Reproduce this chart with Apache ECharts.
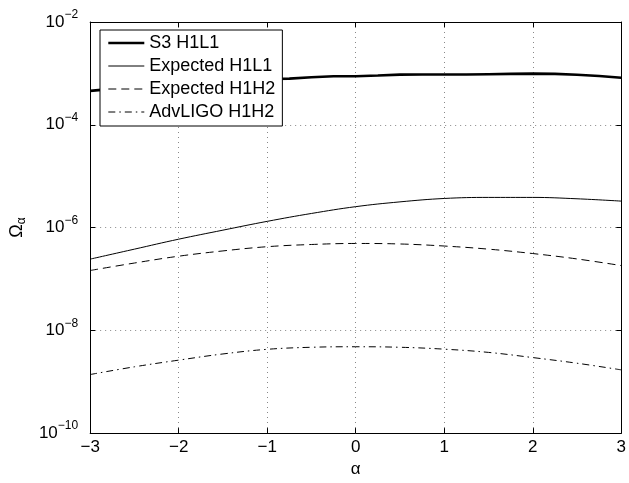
<!DOCTYPE html>
<html>
<head>
<meta charset="utf-8">
<script src="https://cdn.jsdelivr.net/npm/echarts@6/dist/echarts.min.js"></script>
<style>html,body{margin:0;padding:0;background:#fff;}#c{width:629px;height:483px;}</style>
</head>
<body>
<div id="c"></div>
<script>
// x positions (alpha)
var alphaFine = [-3,-2.75,-2.5,-2.25,-2,-1.75,-1.5,-1.25,-1,-0.75,-0.5,-0.25,0,0.25,0.5,0.75,1,1.25,1.5,1.75,2,2.25,2.5,2.75,3];
var alphaCoarse = [-3,-2.5,-2,-1.5,-1,-0.5,0,0.5,1,1.5,2,2.5,3];
// S3 H1L1 (measured upper limit)
var s3H1L1 = [4.57e-4,5.0e-4,5.4e-4,5.75e-4,6.2e-4,6.6e-4,7.1e-4,7.4e-4,7.8e-4,7.9e-4,8.4e-4,8.8e-4,8.8e-4,9.1e-4,9.45e-4,9.5e-4,9.5e-4,9.5e-4,9.65e-4,9.8e-4,9.9e-4,9.8e-4,9.4e-4,8.9e-4,8.2e-4];
// Expected H1L1
var expH1L1 = [2.43e-7,3.8e-7,5.94e-7,8.9e-7,1.32e-6,1.88e-6,2.55e-6,3.16e-6,3.68e-6,3.86e-6,3.86e-6,3.63e-6,3.27e-6];
// Expected H1H2
var expH1H2 = [1.46e-7,2.04e-7,2.77e-7,3.51e-7,4.24e-7,4.68e-7,4.9e-7,4.79e-7,4.37e-7,3.8e-7,3.12e-7,2.45e-7,1.82e-7];
// AdvLIGO H1H2
var advH1H2 = [1.38e-9,1.95e-9,2.63e-9,3.47e-9,4.27e-9,4.68e-9,4.79e-9,4.68e-9,4.3e-9,3.72e-9,2.95e-9,2.29e-9,1.7e-9];
var seriesNames = ['S3 H1L1','Expected H1L1','Expected H1H2','AdvLIGO H1H2'];
var xTicks = [-3,-2,-1,0,1,2,3];

function pairs(xs, ys){ return xs.map(function(x,i){ return [x, ys[i]]; }); }
var FONT = 'Liberation Sans, Arial, Helvetica, sans-serif';
var styles = [
  {color:'#000', width:2.6, type:'solid'},
  {color:'#000', width:1, type:'solid'},
  {color:'#000', width:1, type:[8,5]},
  {color:'#000', width:1, type:[7,4,1.5,4]}
];

var chart = echarts.init(document.getElementById('c'), null, {renderer:'canvas'});
var gridLine = {show:true, lineStyle:{color:'#888', width:1, type:[1,4]}};
var option = {
  animation:false,
  backgroundColor:'#fff',
  textStyle:{fontFamily:FONT, color:'#000'},
  grid:{left:89, right:6, top:22, bottom:40, show:false},
  legend:{
    orient:'vertical', left:100, top:30,
    padding:[3,7,4,7], itemWidth:36, itemHeight:14, itemGap:3,
    backgroundColor:'#fff', borderColor:'#000', borderWidth:1,
    itemStyle:{opacity:0},
    textStyle:{fontFamily:FONT, fontSize:18, lineHeight:20, color:'#000'},
    data:seriesNames.map(function(n,i){ return {name:n, lineStyle:styles[i]}; })
  },
  xAxis:[{
    type:'value', min:xTicks[0], max:xTicks[xTicks.length-1], interval:1,
    name:'α', nameLocation:'middle', nameGap:19,
    nameTextStyle:{fontFamily:FONT, fontSize:17, color:'#000'},
    axisLine:{onZero:false, lineStyle:{color:'#000', width:1}},
    axisTick:{inside:true, length:5, lineStyle:{color:'#000'}},
    axisLabel:{fontFamily:FONT, fontSize:17, color:'#000', margin:6,
      formatter:function(v){ return v<0 ? '\u2212'+Math.abs(v) : String(v); }},
    splitLine:gridLine
  },{
    type:'value', position:'top', min:xTicks[0], max:xTicks[xTicks.length-1], interval:1,
    axisLine:{show:true, onZero:false, lineStyle:{color:'#000', width:1}},
    axisTick:{show:true, inside:true, length:5, lineStyle:{color:'#000'}},
    axisLabel:{show:false}, splitLine:{show:false}
  }],
  yAxis:[{
    type:'log', logBase:10, min:1e-10, max:1e-2, interval:2,
    name:'{o|Ω}{s|α}', nameLocation:'middle', nameGap:54, nameRotate:90,
    nameTextStyle:{fontFamily:FONT, color:'#000',
      rich:{o:{fontFamily:FONT, fontSize:18, color:'#000'},
            s:{fontFamily:FONT, fontSize:12, color:'#000', padding:[10,0,0,0]}}},
    axisLine:{show:true, onZero:false, lineStyle:{color:'#000', width:1}},
    axisTick:{show:true, inside:true, length:5, lineStyle:{color:'#000'}},
    axisLabel:{margin:12, color:'#000',
      formatter:function(v){
        var e = Math.round(Math.log(v)/Math.LN10);
        return '{b|10}{s|' + (e<0?'\u2212':'') + Math.abs(e) + '}';
      },
      rich:{b:{fontFamily:FONT, fontSize:17, color:'#000'},
            s:{fontFamily:FONT, fontSize:12, color:'#000', padding:[0,0,14,0]}}},
    splitLine:gridLine
  },{
    type:'log', logBase:10, min:1e-10, max:1e-2, interval:2, position:'right',
    axisLine:{show:true, onZero:false, lineStyle:{color:'#000', width:1}},
    axisTick:{show:true, inside:true, length:5, lineStyle:{color:'#000'}},
    axisLabel:{show:false}, splitLine:{show:false}
  }],
  series:[
    {name:seriesNames[0], type:'line', symbol:'none', data:pairs(alphaFine, s3H1L1),
     lineStyle:styles[0], itemStyle:{color:'#000'}},
    {name:seriesNames[1], type:'line', symbol:'none', smooth:0.4, data:pairs(alphaCoarse, expH1L1),
     lineStyle:styles[1], itemStyle:{color:'#000'}},
    {name:seriesNames[2], type:'line', symbol:'none', smooth:0.4, data:pairs(alphaCoarse, expH1H2),
     lineStyle:styles[2], itemStyle:{color:'#000'}},
    {name:seriesNames[3], type:'line', symbol:'none', smooth:0.4, data:pairs(alphaCoarse, advH1H2),
     lineStyle:styles[3], itemStyle:{color:'#000'}}
  ]
};
chart.setOption(option);
</script>
</body>
</html>
